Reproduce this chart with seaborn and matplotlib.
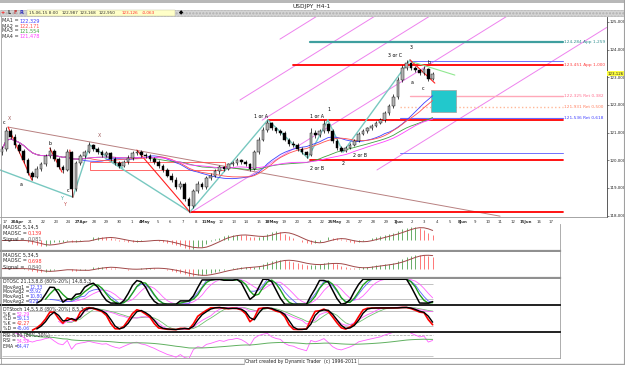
import numpy as np
import pandas as pd
import matplotlib
matplotlib.use("Agg")
import matplotlib.pyplot as plt
from matplotlib.patches import Rectangle
from matplotlib.lines import Line2D
import seaborn as sns

# ---- price bars (oldest first) ----
opens = [120.30, 120.40, 121.05, 120.85, 120.55, 120.35, 120.00, 119.55, 119.40, 119.70,
         119.85, 120.15, 120.35, 120.05, 119.75, 119.65, 120.30, 118.95, 119.90, 120.15,
         120.30, 120.55, 120.40, 120.30, 120.20, 120.25, 120.05, 119.90, 119.80, 119.95,
         120.10, 120.25, 120.30, 120.20, 120.15, 120.05, 119.95, 119.80, 119.65, 119.45,
         119.30, 119.05, 119.15, 118.60, 118.35, 118.90, 119.15, 119.05, 119.35, 119.45,
         119.60, 119.75, 119.70, 119.85, 119.90, 120.00, 119.95, 119.85, 119.70, 120.30,
         120.75, 121.10, 121.35, 121.15, 121.05, 121.00, 120.75, 120.60, 120.55, 120.40,
         120.30, 120.20, 121.00, 120.90, 121.05, 121.30, 121.05, 120.70, 120.45, 120.35,
         120.45, 120.55, 120.70, 120.95, 121.05, 121.15, 121.25, 121.35, 121.45, 121.70,
         121.95, 122.30, 122.90, 123.35, 123.50, 123.35, 123.25, 123.15, 123.30, 122.95]
highs = [120.50, 121.21, 121.12, 120.95, 120.62, 120.42, 120.08, 119.62, 119.78, 119.95,
         120.22, 120.48, 120.40, 120.12, 119.82, 120.40, 120.35, 119.98, 120.22, 120.38,
         120.65, 120.60, 120.48, 120.38, 120.35, 120.30, 120.12, 119.96, 120.02, 120.18,
         120.32, 120.38, 120.36, 120.28, 120.22, 120.12, 120.02, 119.88, 119.72, 119.55,
         119.38, 119.25, 119.22, 118.68, 118.98, 119.25, 119.22, 119.42, 119.55, 119.68,
         119.82, 119.80, 119.92, 119.98, 120.08, 120.05, 120.02, 119.90, 120.38, 120.85,
         121.20, 121.46, 121.40, 121.22, 121.12, 121.05, 120.82, 120.68, 120.62, 120.48,
         120.35, 121.17, 121.08, 121.12, 121.46, 121.35, 121.12, 120.78, 120.50, 120.52,
         120.62, 120.78, 121.02, 121.12, 121.22, 121.32, 121.42, 121.52, 121.78, 122.02,
         122.40, 123.00, 123.45, 123.63, 123.55, 123.42, 123.30, 123.40, 123.35, 123.20]
lows = [120.20, 120.32, 120.78, 120.45, 120.25, 119.90, 119.48, 119.30, 119.35, 119.62,
        119.78, 120.08, 119.98, 119.68, 119.55, 119.60, 118.68, 118.88, 119.82, 120.08,
        120.25, 120.32, 120.22, 120.12, 120.12, 119.98, 119.82, 119.72, 119.75, 119.88,
        120.02, 120.18, 120.12, 120.08, 119.98, 119.88, 119.72, 119.58, 119.38, 119.22,
        118.98, 118.95, 118.52, 118.14, 118.28, 118.82, 118.98, 118.98, 119.28, 119.38,
        119.52, 119.62, 119.64, 119.78, 119.84, 119.88, 119.78, 119.62, 119.65, 120.22,
        120.68, 121.02, 121.08, 120.98, 120.92, 120.68, 120.52, 120.48, 120.32, 120.22,
        120.09, 120.15, 120.82, 120.85, 120.98, 120.98, 120.62, 120.38, 120.30, 120.30,
        120.40, 120.50, 120.65, 120.90, 121.00, 121.10, 121.20, 121.30, 121.40, 121.65,
        121.90, 122.22, 122.82, 123.28, 123.28, 123.18, 123.08, 123.10, 122.85, 122.90]
closes = [120.40, 121.05, 120.85, 120.55, 120.35, 120.00, 119.55, 119.40, 119.70, 119.85,
          120.15, 120.35, 120.05, 119.75, 119.65, 120.30, 118.95, 119.90, 120.15, 120.30,
          120.55, 120.40, 120.30, 120.20, 120.25, 120.05, 119.90, 119.80, 119.95, 120.10,
          120.25, 120.30, 120.20, 120.15, 120.05, 119.95, 119.80, 119.65, 119.45, 119.30,
          119.05, 119.15, 118.60, 118.35, 118.90, 119.15, 119.05, 119.35, 119.45, 119.60,
          119.75, 119.70, 119.85, 119.90, 120.00, 119.95, 119.85, 119.70, 120.30, 120.75,
          121.10, 121.35, 121.15, 121.05, 121.00, 120.75, 120.60, 120.55, 120.40, 120.30,
          120.20, 121.00, 120.90, 121.05, 121.30, 121.05, 120.70, 120.45, 120.35, 120.45,
          120.55, 120.70, 120.95, 121.05, 121.15, 121.25, 121.35, 121.45, 121.70, 121.95,
          122.30, 122.90, 123.35, 123.50, 123.35, 123.25, 123.15, 123.30, 122.95, 123.13]

# date row labels (one per trading day, week starts in bold)
date_labels = ["17", "20Apr", "21", "22", "23", "24", "27Apr", "28", "29", "30", "1",
               "4May", "5", "6", "7", "8", "11May", "12", "13", "14", "15",
               "18May", "19", "20", "21", "22", "25May", "26", "27", "28", "29",
               "1Jun", "2", "3", "4", "5", "8Jun", "9", "10", "11", "12",
               "15Jun", "16", "17"]

# moving averages legend values shown top-left
ma_names = ["MA1", "MA2", "MA3", "MA4"]
ma_values = ["122,329", "122,171", "121,554", "121,478"]
ma_windows = [18, 20, 34, 38]

# horizontal levels (price, first bar, last bar)
level_price = [124.284, 123.451, 123.59, 122.325, 121.931, 121.536, 121.46, 120.26, 120.02, 118.14]
level_from = [70.8, 66.9, 93.8, 93.8, 91.5, 91.5, 61.1, 91.5, 70.8, 43.2]
level_to = [129.0] * 10
level_text = ["124,284 App 1,259", "123,451 App 1,000", "", "122,325 Ret 0,382",
              "121,931 Ret 0,500", "121,536 Ret 0,618", "", "", "", ""]

# swing lines (bar0, price0, bar1, price1)
teal_lines = [(-0.46, 119.65, 16.3, 118.67), (16.3, 118.67, 20.2, 120.55),
              (20.2, 120.55, 27.8, 119.72), (23.7, 120.08, 43.2, 118.13),
              (43.2, 118.13, 61.1, 121.46), (61.1, 121.46, 70.3, 120.08),
              (70.3, 120.08, 74.9, 121.46), (74.9, 121.46, 78.4, 120.30),
              (78.4, 120.30, 93.8, 123.63)]
red_lines = [(1.4, 121.20, 6.9, 119.28), (11.0, 120.44, 13.8, 119.57),
             (15.6, 120.37, 16.3, 118.67), (31.0, 120.37, 43.2, 118.13),
             (93.8, 123.63, 99.5, 122.79)]
green_lines = [(94.5, 123.55, 104.1, 123.08)]
x_line = [(1.4, 121.20, 114.5, 117.98)]
channel_lines = [(43.2, 118.09, 116.0, 125.2), (59.8, 121.45, 98.2, 125.2),
                 (54.7, 122.18, 85.6, 125.2), (63.9, 124.38, 72.3, 125.2),
                 (86.2, 119.65, 139.0, 124.80)]

wave_text = ["c", "X", "a", "b", "c", "Y", "Y", "X", "1 or A", "1 or A", "1",
             "2 or B", "2 or B", "2", "3 or C", "3", "a", "b", "c"]
wave_bar = [0.5, 1.8, 4.4, 11.0, 15.2, 14.0, 14.5, 22.5, 59.5, 72.4, 75.2,
            72.4, 82.3, 78.4, 90.3, 94.0, 94.3, 98.2, 96.8]
wave_price = [121.38, 121.52, 119.12, 120.62, 118.92, 118.62, 118.40, 120.91, 121.58, 121.60, 121.85,
              119.70, 120.18, 119.90, 123.80, 124.06, 122.80, 123.55, 122.58]
wave_color = ["black", "#a05a5a", "black", "black", "black", "#40a8a0", "#c04848", "#a05a5a",
              "black", "black", "black", "black", "black", "black", "black", "black",
              "black", "black", "black"]

# ---- layout helpers (pixel based) ----
W, H = 625, 365
BAR_PX, X0_PX = 4.35, 2.0


def px_rect(l, t, r, b):
    return [l / W, 1 - b / H, (r - l) / W, (b - t) / H]


def xlim_for(width_px):
    return (-X0_PX / BAR_PX, (width_px - X0_PX) / BAR_PX)


def ftext(x, y, s, **kw):
    kw.setdefault("fontsize", 3.6)
    kw.setdefault("va", "center")
    fig.text(x / W, 1 - y / H, s, **kw)


sns.set_style("white")
plt.rcParams["font.family"] = ["DejaVu Sans"]

fig = plt.figure(figsize=(W / 100, H / 100), dpi=100)
fig.patch.set_facecolor("white")

idx = np.arange(len(closes))
close = pd.Series(closes, dtype=float)
high = pd.Series(highs, dtype=float)
low = pd.Series(lows, dtype=float)
o = np.array(opens)
c = np.array(closes)

# ---- main price panel ----
ax = fig.add_axes(px_rect(0, 17, 607, 217))
ax.set_xlim(xlim_for(607))
ax.set_ylim(117.95, 125.18)
for s in ["top", "left"]:
    ax.spines[s].set_visible(False)
ax.spines["right"].set_color("#404040")
ax.spines["right"].set_linewidth(0.6)
ax.spines["bottom"].set_color("#808080")
ax.spines["bottom"].set_linewidth(0.5)

# channel lines
for b0, p0, b1, p1 in channel_lines:
    ax.plot([b0, b1], [p0, p1], color="#ee82ee", lw=0.7, zorder=1)
for b0, p0, b1, p1 in x_line:
    ax.plot([b0, b1], [p0, p1], color="#b88080", lw=0.7, zorder=1)

# levels
lv_col = ["#3f9f9f", "#ff0000", "#7070ff", "#ffa8b8", "#ffb898", "#6a6aff", "#ff0000",
          "#7070ff", "#ff0000", "#ff0000"]
lv_lw = [1.6, 1.3, 0.7, 1.0, 1.0, 0.8, 1.3, 0.7, 1.3, 1.3]
lv_ls = ["-", "-", "-", "-", ":", "-", "-", "-", "-", "-"]
lv_txt_col = ["#2f8f8f", "#ff4040", "", "#ff7090", "#ff8060", "#4040ff", "", "", "", ""]
for k, p in enumerate(level_price):
    ax.plot([level_from[k], level_to[k]], [p, p], color=lv_col[k], lw=lv_lw[k],
            ls=lv_ls[k], zorder=2)
    if level_text[k]:
        ax.text(level_to[k] + 0.3, p, level_text[k], fontsize=3.1, color=lv_txt_col[k],
                va="center", ha="left")

ax.add_patch(Rectangle((20.2, 119.65), 31.1, 0.28, fill=False, ec="#ff5050", lw=0.6, zorder=2))
ax.add_patch(Rectangle((98.6, 121.74), 5.8, 0.80, fc="#22c8cc", ec="#a0a0a0", lw=0.5, zorder=2))

for b0, p0, b1, p1 in teal_lines:
    ax.plot([b0, b1], [p0, p1], color="#78c8c0", lw=1.0, zorder=2)
for b0, p0, b1, p1 in red_lines:
    ax.plot([b0, b1], [p0, p1], color="#ff2020", lw=0.8, zorder=2)
for b0, p0, b1, p1 in green_lines:
    ax.plot([b0, b1], [p0, p1], color="#90e890", lw=0.8, zorder=2)

# moving averages
ma_colors = ["#4040ff", "#ff5050", "#40a040", "#ff40ff"]
for w, col in zip(ma_windows, ma_colors):
    sns.lineplot(x=idx, y=close.rolling(w, min_periods=1).mean().values, color=col,
                 lw=0.6, ax=ax, zorder=3)

# candles
up = c >= o
ax.vlines(idx, lows, highs, color="black", lw=0.5, zorder=4)
body = np.maximum(np.abs(c - o), 0.02)
ax.bar(idx, body, bottom=np.minimum(o, c), width=0.62,
       color=np.where(up, "#b4b4b4", "#000000"), edgecolor="black", lw=0.3, zorder=5)

for t, b, p, col in zip(wave_text, wave_bar, wave_price, wave_color):
    ax.text(b, p, t, fontsize=3.4, color=col, ha="center", va="center", zorder=6)

# price scale
ax.yaxis.tick_right()
ax.set_yticks(np.arange(118, 126))
ax.set_yticklabels([f"{v},000" for v in range(118, 126)], fontsize=2.9, color="#202020")
ax.tick_params(axis="y", length=1.2, width=0.4, pad=0.6)
ax.text(1.001, 123.126, "123,126", transform=ax.get_yaxis_transform(), fontsize=2.9,
        va="center", ha="left", bbox=dict(boxstyle="square,pad=0.1", fc="#ffff40", ec="none"),
        zorder=7)

# date row
date_pos = 0.7 + 2.92 * np.arange(len(date_labels))
ax.set_xticks(date_pos)
ax.set_xticklabels(date_labels, fontsize=2.8, color="#303030")
for k, lab in enumerate(ax.get_xticklabels()):
    if k % 5 == 1:
        lab.set_fontweight("bold")
ax.tick_params(axis="x", length=1.5, width=0.3, pad=0.8)

for k, (n, v, col) in enumerate(zip(ma_names, ma_values, ma_colors)):
    ftext(2, 21 + 5 * k, f"{n} =", color="#303030")
    ftext(20, 21 + 5 * k, v, color=col)


# ---- indicators ----
def sma(s, n):
    return s.rolling(n, min_periods=1).mean()


def rsi(s, n):
    d = s.diff()
    g = d.clip(lower=0).ewm(alpha=1 / n, adjust=False).mean()
    l_ = (-d.clip(upper=0)).ewm(alpha=1 / n, adjust=False).mean()
    return 100 - 100 / (1 + g / l_.replace(0, 1e-9))


def stoch_rsi(s, n_rsi, n_st, n_k, n_d):
    r = rsi(s, n_rsi)
    lo, hi = r.rolling(n_st).min(), r.rolling(n_st).max()
    st = 100 * (r - lo) / (hi - lo).replace(0, np.nan)
    k = st.rolling(n_k).mean()
    return k, k.rolling(n_d).mean()


def stoch(n, n_k, n_d):
    ll, hh = low.rolling(n).min(), high.rolling(n).max()
    k = (100 * (close - ll) / (hh - ll)).rolling(n_k).mean()
    return k, k.rolling(n_d).mean()


def panel(top, bottom, sep_color, sep_lw):
    a = fig.add_axes(px_rect(0, top, 560, bottom))
    a.set_xlim(xlim_for(560))
    a.set_xticks([])
    a.set_yticks([])
    a.set_facecolor("white")
    a.spines["top"].set_visible(False)
    a.spines["left"].set_color("#a0a0a0")
    a.spines["left"].set_linewidth(0.5)
    a.spines["right"].set_color("#a0a0a0")
    a.spines["right"].set_linewidth(0.6)
    a.spines["bottom"].set_color(sep_color)
    a.spines["bottom"].set_linewidth(sep_lw)
    return a


def maosc_panel(a, fast, slow):
    osc = sma(close, fast) - sma(close, slow)
    sig = sma(osc, 5)
    rising = osc.diff().fillna(0) >= 0
    a.vlines(idx, 0, osc, colors=np.where(rising, "#50a050", "#ff6060"), lw=0.6)
    sns.lineplot(x=idx, y=sig.values, color="#a04848", lw=0.7, ax=a)
    lo, hi = min(osc.min(), sig.min()), max(osc.max(), sig.max())
    a.set_ylim(lo - 0.1 * (hi - lo), hi + 0.12 * (hi - lo))


p1 = panel(224, 251, "#909090", 1.6)
maosc_panel(p1, 5, 14)
p2 = panel(252, 278, "#909090", 1.6)
maosc_panel(p2, 5, 34)

p3 = panel(279, 305, "#202020", 1.4)
fk, fd = stoch_rsi(close, 7, 6, 3, 3)
sk, sd = stoch_rsi(close, 10, 8, 4, 4)
p3.hlines([80, 20], 6, idx[-1], color="#b8b8b8", lw=0.6)
sns.lineplot(x=idx, y=sd.values, color="#ff60ff", lw=0.6, ax=p3)
sns.lineplot(x=idx, y=sk.values, color="#6060ff", lw=0.6, ax=p3)
sns.lineplot(x=idx, y=fd.values, color="#20a020", lw=1.0, ax=p3)
sns.lineplot(x=idx, y=fk.values, color="#000000", lw=1.1, ax=p3)
p3.set_ylim(-3, 101)

p4 = panel(306, 332, "#202020", 1.4)
k1, d1 = stoch(7, 2, 2)
k2, d2 = stoch(12, 3, 3)
p4.hlines([80, 20], 6, idx[-1], color="#b8b8b8", lw=0.6)
sns.lineplot(x=idx, y=d2.values, color="#70c070", lw=0.6, ax=p4)
sns.lineplot(x=idx, y=k2.values, color="#ff60ff", lw=0.6, ax=p4)
sns.lineplot(x=idx, y=k1.values, color="#ff0000", lw=1.2, ax=p4)
sns.lineplot(x=idx, y=d1.values, color="#000000", lw=1.0, ax=p4)
p4.set_ylim(-3, 101)

p5 = panel(333, 358, "#a0a0a0", 0.6)
r = rsi(close, 7)
p5.hlines([80], 0, idx[-1], color="#a0a0a0", lw=0.5, ls="--")
p5.hlines([20], 0, idx[-1], color="#c0c0c0", lw=0.6)
sns.lineplot(x=idx, y=r.values, color="#ff60ff", lw=0.6, ax=p5)
sns.lineplot(x=idx, y=r.ewm(span=40).mean().values, color="#60b060", lw=0.7, ax=p5)
p5.set_ylim(14, 87)

for a in [p1, p2, p3, p4, p5]:
    a.set_xlabel("")
    a.set_ylabel("")

# panel captions
ftext(3, 227, "MAOSC 5,14,5")
ftext(3, 233, "MAOSC =")
ftext(28, 233, "0,139", color="#ff3030")
ftext(3, 239, "Signal =")
ftext(28, 239, "0,081", color="#606060")
ftext(3, 255, "MAOSC 5,34,5")
ftext(3, 261, "MAOSC =")
ftext(28, 261, "0,698", color="#ff3030")
ftext(3, 267, "Signal =")
ftext(28, 267, "0,840", color="#606060")
ftext(3, 282, "DTOSC 21,13,8,8 (80%-20%) 14,8,5,3", fontsize=3.3)
for k, (n, v) in enumerate([("MovAvg1 =", "12,33"), ("MovAvg2 =", "33,92"),
                            ("MovAvg1 =", "10,80"), ("MovAvg2 =", "9,29")]):
    ftext(3, 287 + 4.7 * k, n, fontsize=3.3)
    ftext(29, 287 + 4.7 * k, v, fontsize=3.3, color="#4848ff")
ftext(3, 309, "DTStoch 14,5,5,8 (80%-20%) 8,5,3,4", fontsize=3.3)
for k, (n, v, col) in enumerate([("%K =", "52,29", "#ff40ff"), ("%D =", "59,13", "#4848ff"),
                                 ("%K =", "42,27", "#ff3030"), ("%D =", "45,06", "#4848ff")]):
    ftext(3, 314 + 4.7 * k, n, fontsize=3.3)
    ftext(17, 314 + 4.7 * k, v, fontsize=3.3, color=col)
ftext(3, 336, "RSI 8,80 (80%-20%)", fontsize=3.3)
ftext(3, 341, "RSI =", fontsize=3.3)
ftext(17, 341, "54,52", fontsize=3.3, color="#ff40ff")
ftext(3, 346, "EMA =", fontsize=3.3)
ftext(17, 346, "54,47", fontsize=3.3, color="#4848ff")

# ---- window chrome ----
fig.patches.append(Rectangle((0, 1 - 2.5 / H), 1, 2.5 / H, transform=fig.transFigure,
                             fc="#b8b8b8", ec="none"))
ftext(312, 6, "USDJPY_H4-1", fontsize=4.2, ha="center", color="#202020")
fig.patches.append(Rectangle((0, 1 - 16 / H), 1, 6.5 / H, transform=fig.transFigure,
                             fc="#d4d4d4", ec="#b0b0b0", lw=0.4, hatch="....."))
fig.patches.append(Rectangle((27 / W, 1 - 15.5 / H), 148 / W, 5.5 / H, transform=fig.transFigure,
                             fc="#ffffc8", ec="#c0c0a0", lw=0.3))
for x_, s_, col in [(3, "+", "#ff3030"), (9, "L", "#303030"), (15, "F", "#c03030"),
                    (21, "R", "#3030c0")]:
    ftext(x_, 12.8, s_, fontsize=3.6, color=col, ha="center", fontweight="bold")
for x_, s_, col in [(29, "15-06-15 8:00", "#303030"), (62, "122,987", "#303030"),
                    (80, "123,168", "#303030"), (99, "122,950", "#303030"),
                    (122, "123,126", "#ff3030"), (142, "-0,063", "#ff3030")]:
    ftext(x_, 12.8, s_, fontsize=3.0, color=col)
ftext(181, 12.8, "\u25c6", fontsize=4, color="black", ha="center")

fig.lines.append(Line2D([1 - 1.0 / W] * 2, [0, 1], transform=fig.transFigure, color="#a0a0a0", lw=0.8))
fig.lines.append(Line2D([0.5 / W] * 2, [0, 1 - 16 / H], transform=fig.transFigure, color="#a0a0a0", lw=0.6))
fig.lines.append(Line2D([0, 1], [1.5 / H] * 2, transform=fig.transFigure, color="#a0a0a0", lw=1.0))
fig.text(301 / W, 1 - 361.5 / H, "Chart created by Dynamic Trader  (c) 1996-2011", fontsize=3.3,
         ha="center", va="center", color="#202020",
         bbox=dict(boxstyle="square,pad=0.2", fc="white", ec="#a0a0a0", lw=0.4))

fig.savefig("out.png", dpi=100)
